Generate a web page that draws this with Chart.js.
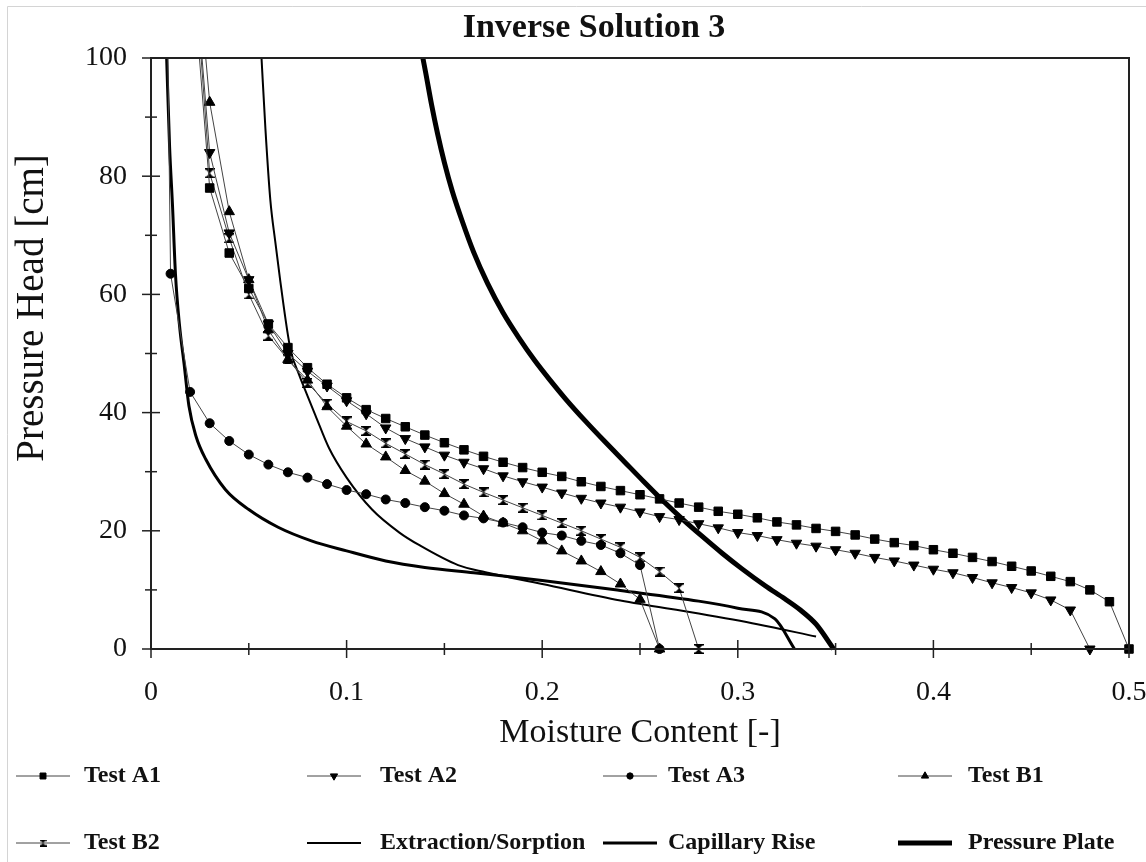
<!DOCTYPE html>
<html lang="en">

<head>
    <meta charset="UTF-8">
    <title>Inverse Solution 3</title>
    <script src="https://cdn.jsdelivr.net/npm/chart.js"></script>
    <style>
        body { margin: 0; background: #fff; }
        #wrap { width: 1146px; height: 862px; }
    </style>
</head>

<body>
    <div id="wrap"><canvas id="myChart" width="1146" height="862"></canvas></div>
    <script>
        // values: moisture content (x) and pressure head in cm (y)
        var a1Theta = [0.02, 0.03, 0.04, 0.05, 0.06, 0.07, 0.08, 0.09, 0.10, 0.11, 0.12, 0.13, 0.14, 0.15, 0.16, 0.17, 0.18, 0.19, 0.20, 0.21, 0.22, 0.23, 0.24, 0.25, 0.26, 0.27, 0.28, 0.29, 0.30, 0.31, 0.32, 0.33, 0.34, 0.35, 0.36, 0.37, 0.38, 0.39, 0.40, 0.41, 0.42, 0.43, 0.44, 0.45, 0.46, 0.47, 0.48, 0.49, 0.50];
        var a1Head = [120, 78, 67, 61, 55, 51, 47.6, 44.8, 42.5, 40.5, 39, 37.6, 36.2, 34.9, 33.7, 32.6, 31.6, 30.7, 29.9, 29.2, 28.3, 27.5, 26.8, 26.1, 25.4, 24.7, 24.0, 23.3, 22.8, 22.2, 21.5, 21.0, 20.4, 19.9, 19.3, 18.6, 18.0, 17.5, 16.8, 16.2, 15.5, 14.8, 14.0, 13.2, 12.3, 11.4, 10.0, 8.0, 0];

        var a2Theta = [0.02, 0.03, 0.04, 0.05, 0.06, 0.07, 0.08, 0.09, 0.10, 0.11, 0.12, 0.13, 0.14, 0.15, 0.16, 0.17, 0.18, 0.19, 0.20, 0.21, 0.22, 0.23, 0.24, 0.25, 0.26, 0.27, 0.28, 0.29, 0.30, 0.31, 0.32, 0.33, 0.34, 0.35, 0.36, 0.37, 0.38, 0.39, 0.40, 0.41, 0.42, 0.43, 0.44, 0.45, 0.46, 0.47, 0.48];
        var a2Head = [125, 84, 70.4, 62.5, 55, 50, 47, 44.5, 42, 39.8, 37.4, 35.6, 34.2, 32.8, 31.6, 30.5, 29.3, 28.3, 27.4, 26.4, 25.5, 24.7, 24.0, 23.2, 22.4, 21.9, 21.2, 20.5, 19.7, 19.2, 18.5, 17.9, 17.4, 16.8, 16.2, 15.5, 14.9, 14.2, 13.5, 12.9, 12.1, 11.2, 10.4, 9.5, 8.3, 6.6, 0];

        var a3Theta = [0.005, 0.01, 0.02, 0.03, 0.04, 0.05, 0.06, 0.07, 0.08, 0.09, 0.10, 0.11, 0.12, 0.13, 0.14, 0.15, 0.16, 0.17, 0.18, 0.19, 0.20, 0.21, 0.22, 0.23, 0.24, 0.25, 0.26];
        var a3Head = [200, 63.5, 43.5, 38.2, 35.2, 32.9, 31.2, 29.9, 29.0, 27.9, 26.9, 26.2, 25.3, 24.7, 24.0, 23.4, 22.6, 22.1, 21.4, 20.6, 19.7, 19.2, 18.3, 17.6, 16.2, 14.2, 0];

        var b1Theta = [0.02, 0.03, 0.04, 0.05, 0.06, 0.07, 0.08, 0.09, 0.10, 0.11, 0.12, 0.13, 0.14, 0.15, 0.16, 0.17, 0.18, 0.19, 0.20, 0.21, 0.22, 0.23, 0.24, 0.25, 0.26];
        var b1Head = [130, 92.5, 74, 62.5, 54, 49, 45.5, 41, 37.7, 34.7, 32.5, 30.2, 28.4, 26.3, 24.5, 22.5, 21.3, 20.0, 18.3, 16.6, 14.9, 13.1, 11.0, 8.4, 0];

        var b2Theta = [0.02, 0.03, 0.04, 0.05, 0.06, 0.07, 0.08, 0.09, 0.10, 0.11, 0.12, 0.13, 0.14, 0.15, 0.16, 0.17, 0.18, 0.19, 0.20, 0.21, 0.22, 0.23, 0.24, 0.25, 0.26, 0.27, 0.28];
        var b2Head = [125, 80.5, 69.5, 60, 53, 49, 45, 41.5, 38.5, 36.9, 34.8, 33, 31.2, 29.6, 27.9, 26.5, 25.2, 23.9, 22.6, 21.3, 20.0, 18.6, 17.2, 15.5, 13.1, 10.3, 0];

        var extTheta = [0.0565, 0.0585, 0.061, 0.0635, 0.066, 0.0713, 0.0756, 0.0798, 0.0841, 0.091, 0.1, 0.113, 0.127, 0.137, 0.157, 0.171, 0.2, 0.24, 0.28, 0.31, 0.34];
        var extHead = [100, 88, 76, 69, 62.5, 50.7, 46.5, 43, 39.5, 34, 29, 23.6, 19.7, 17.6, 14.2, 13.0, 11.0, 8.2, 6.0, 4.2, 2.1];

        var capTheta = [0.008, 0.0095, 0.011, 0.0125, 0.0145, 0.017, 0.0194, 0.023, 0.028, 0.038, 0.05, 0.065, 0.082, 0.1, 0.12, 0.14, 0.165, 0.2, 0.24, 0.28, 0.30, 0.319, 0.329];
        var capHead = [100, 85, 75, 63.5, 55, 48, 41.1, 36, 32.1, 27, 23.6, 20.6, 18.3, 16.6, 14.9, 13.8, 12.9, 11.6, 9.9, 8.1, 6.9, 5.1, 0];

        var ppTheta = [0.139, 0.1405, 0.1435, 0.1465, 0.150, 0.154, 0.159, 0.165, 0.172, 0.180, 0.188, 0.196, 0.204, 0.212, 0.222, 0.232, 0.242, 0.252, 0.262, 0.272, 0.282, 0.292, 0.302, 0.314, 0.324, 0.332, 0.340, 0.349];
        var ppHead = [100, 97.4, 92, 87.2, 82.3, 77.5, 72.5, 67.1, 61.9, 56.9, 52.7, 48.9, 45.5, 42.3, 38.6, 35.1, 31.7, 28.3, 25.0, 21.9, 19.0, 16.2, 13.6, 10.7, 8.5, 6.6, 4.2, 0];

        var seriesNames = ['Test A1', 'Test A2', 'Test A3', 'Test B1', 'Test B2', 'Extraction/Sorption', 'Capillary Rise', 'Pressure Plate'];
        var xTickValues = [0, 0.1, 0.2, 0.3, 0.4, 0.5];
        var xTickLabels = ['0', '0.1', '0.2', '0.3', '0.4', '0.5'];
        var yTickValues = [0, 20, 40, 60, 80, 100];
        var yTickLabels = ['0', '20', '40', '60', '80', '100'];

        function toPoints(xs, ys) {
            return xs.map(function (x, i) { return { x: x, y: ys[i] }; });
        }

        // hourglass marker for Test B2
        function hourglass(s) {
            var c = document.createElement('canvas');
            c.width = s; c.height = s;
            var g = c.getContext('2d');
            g.fillStyle = '#000';
            g.beginPath();
            g.moveTo(0, 0); g.lineTo(s, 0); g.lineTo(s / 2, s / 2); g.closePath();
            g.moveTo(0, s); g.lineTo(s, s); g.lineTo(s / 2, s / 2); g.closePath();
            g.fill();
            g.fillRect(0, 0, s, 1.5);
            g.fillRect(0, s - 1.5, s, 1.5);
            return c;
        }

        var serif = "'Liberation Serif', 'Times New Roman', serif";

        function testSet(i, xs, ys, style, radius, rot) {
            return {
                label: seriesNames[i],
                data: toPoints(xs, ys),
                showLine: true,
                borderColor: '#444',
                borderWidth: 1,
                pointStyle: style,
                pointRotation: rot || 0,
                pointRadius: radius,
                pointBackgroundColor: '#000',
                pointBorderColor: '#000',
                pointBorderWidth: 1,
                legendRadius: radius * 0.7,
                clip: { left: 0, top: 0, right: 10, bottom: 10 }
            };
        }

        function curveSet(i, xs, ys, width) {
            return {
                label: seriesNames[i],
                data: toPoints(xs, ys),
                showLine: true,
                borderColor: '#000',
                borderWidth: width,
                pointRadius: 0,
                cubicInterpolationMode: 'monotone',
                clip: { left: 0, top: 0, right: 10, bottom: 10 }
            };
        }

        var datasets = [
            testSet(0, a1Theta, a1Head, 'rect', 6),
            testSet(1, a2Theta, a2Head, 'triangle', 6, 180),
            testSet(2, a3Theta, a3Head, 'circle', 4.5),
            testSet(3, b1Theta, b1Head, 'triangle', 6),
            testSet(4, b2Theta, b2Head, hourglass(10), 5),
            curveSet(5, extTheta, extHead, 2),
            curveSet(6, capTheta, capHead, 3),
            curveSet(7, ppTheta, ppHead, 5)
        ];
        datasets[4].legendStyle = hourglass(7);

        // box, crossing tick marks, titles and legend
        var decor = {
            id: 'decor',
            beforeDraw: function (chart) {
                var ctx = chart.ctx;
                ctx.save();
                ctx.fillStyle = '#fff';
                ctx.fillRect(0, 0, chart.width, chart.height);
                ctx.strokeStyle = '#d4d4d4';
                ctx.lineWidth = 1;
                ctx.beginPath();
                ctx.moveTo(7.5, chart.height); ctx.lineTo(7.5, 6.5); ctx.lineTo(chart.width, 6.5);
                ctx.stroke();
                ctx.restore();
            },
            afterDraw: function (chart) {
                var ctx = chart.ctx;
                var a = chart.chartArea;
                ctx.save();
                ctx.strokeStyle = '#222';
                ctx.lineWidth = 2;
                ctx.strokeRect(a.left, a.top, a.right - a.left, a.bottom - a.top);

                ctx.lineWidth = 1.5;
                chart.scales.x.ticks.forEach(function (t) {
                    var len = t.label !== '' ? 9 : 6;
                    var p = chart.scales.x.getPixelForValue(t.value);
                    ctx.beginPath();
                    ctx.moveTo(p, a.bottom - len); ctx.lineTo(p, a.bottom + len);
                    ctx.stroke();
                });
                chart.scales.y.ticks.forEach(function (t) {
                    var len = t.label !== '' ? 9 : 6;
                    var p = chart.scales.y.getPixelForValue(t.value);
                    ctx.beginPath();
                    ctx.moveTo(a.left - len, p); ctx.lineTo(a.left + len, p);
                    ctx.stroke();
                });

                ctx.fillStyle = '#111';
                ctx.font = 'bold 34px ' + serif;
                ctx.textAlign = 'center';
                ctx.textBaseline = 'alphabetic';
                ctx.fillText('Inverse Solution 3', 594, 37);

                // y axis title
                ctx.save();
                ctx.translate(33, 308);
                ctx.rotate(-Math.PI / 2);
                ctx.font = '39px ' + serif;
                ctx.textBaseline = 'middle';
                ctx.fillText('Pressure Head [cm]', 0, 0);
                ctx.restore();

                // legend, 4 columns x 2 rows
                var lineX = [16, 307, 603, 898];
                var textX = [84, 380, 668, 968];
                var rowY = [776, 843];
                ctx.font = 'bold 24px ' + serif;
                ctx.textAlign = 'left';
                ctx.textBaseline = 'middle';
                chart.data.datasets.forEach(function (ds, i) {
                    var col = i % 4, row = Math.floor(i / 4);
                    var y = rowY[row];
                    ctx.strokeStyle = ds.borderColor;
                    ctx.lineWidth = ds.borderWidth;
                    ctx.beginPath();
                    ctx.moveTo(lineX[col], y); ctx.lineTo(lineX[col] + 54, y);
                    ctx.stroke();
                    if (ds.pointRadius > 0) {
                        ctx.fillStyle = '#000';
                        ctx.strokeStyle = '#000';
                        ctx.lineWidth = 1;
                        Chart.helpers.drawPoint(ctx, {
                            pointStyle: ds.legendStyle || ds.pointStyle,
                            rotation: ds.pointRotation,
                            radius: ds.legendRadius,
                            borderWidth: 1
                        }, lineX[col] + 27, y);
                    }
                    ctx.fillStyle = '#111';
                    ctx.fillText(ds.label, textX[col], y);
                });
                ctx.restore();
            }
        };

        var myChart = new Chart(document.getElementById('myChart'), {
            type: 'scatter',
            data: { datasets: datasets },
            plugins: [decor],
            options: {
                responsive: false,
                animation: false,
                layout: { padding: { top: 58, left: 8, right: 17, bottom: 103 } },
                plugins: {
                    legend: { display: false },
                    tooltip: { enabled: false }
                },
                scales: {
                    x: {
                        type: 'linear',
                        min: 0,
                        max: 0.5,
                        afterFit: function (scale) {
                            scale.height = 110;
                            scale.paddingLeft = 0;
                            scale.paddingRight = 0;
                        },
                        grid: { display: false, drawTicks: false },
                        border: { display: false },
                        ticks: {
                            stepSize: 0.05,
                            autoSkip: false,
                            maxRotation: 0,
                            padding: 27,
                            color: '#111',
                            font: { family: serif, size: 28 },
                            callback: function (v) {
                                var k = xTickValues.findIndex(function (t) { return Math.abs(t - v) < 1e-6; });
                                return k >= 0 ? xTickLabels[k] : '';
                            }
                        },
                        title: {
                            display: true,
                            text: 'Moisture Content [-]',
                            color: '#111',
                            font: { family: serif, size: 34 },
                            padding: { top: 0, bottom: 6 }
                        }
                    },
                    y: {
                        type: 'linear',
                        min: 0,
                        max: 100,
                        afterFit: function (scale) {
                            scale.width = 143;
                            scale.paddingTop = 0;
                            scale.paddingBottom = 0;
                        },
                        grid: { display: false, drawTicks: false },
                        border: { display: false },
                        ticks: {
                            stepSize: 10,
                            autoSkip: false,
                            padding: 24,
                            color: '#111',
                            font: { family: serif, size: 28 },
                            callback: function (v) {
                                var k = yTickValues.indexOf(v);
                                return k >= 0 ? yTickLabels[k] : '';
                            }
                        }
                    }
                }
            }
        });
    </script>

</body>

</html>
